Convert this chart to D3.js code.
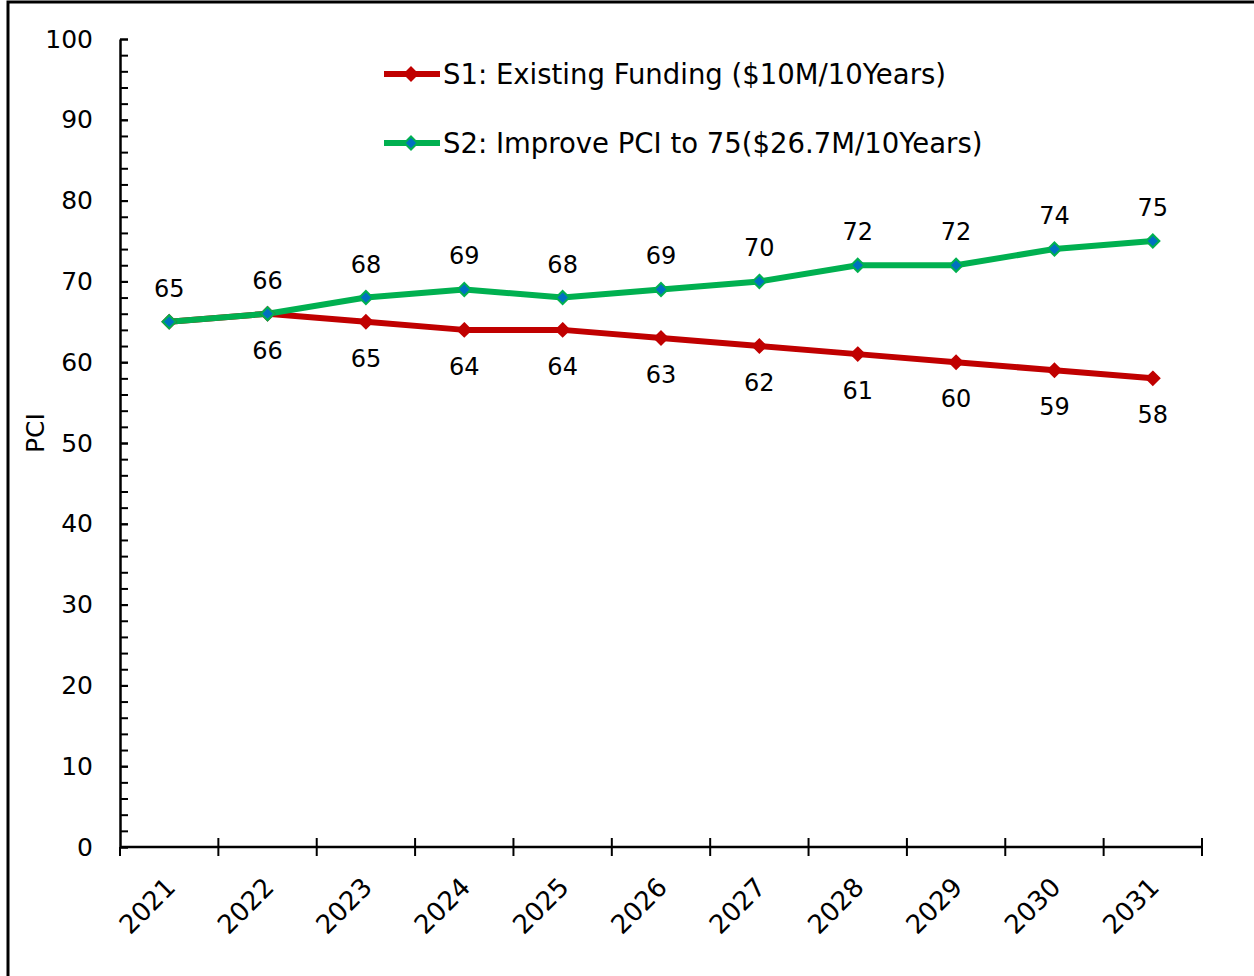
<!DOCTYPE html>
<html>
<head>
<meta charset="utf-8">
<script src="https://cdn.jsdelivr.net/npm/d3@7"></script>
<style>
  body { margin: 0; background: #fff; }
  text { font-family: "DejaVu Sans", Verdana, sans-serif; fill: #000; }
</style>
</head>
<body>
<div id="wrapper"></div>
<script>
// data
const years = ["2021", "2022", "2023", "2024", "2025", "2026", "2027", "2028", "2029", "2030", "2031"];
const s1Values = [65, 66, 65, 64, 64, 63, 62, 61, 60, 59, 58];
const s2Values = [65, 66, 68, 69, 68, 69, 70, 72, 72, 74, 75];
const s1Name = "S1: Existing Funding ($10M/10Years)";
const s2Name = "S2: Improve PCI to 75($26.7M/10Years)";
const yTicks = [0, 10, 20, 30, 40, 50, 60, 70, 80, 90, 100];

function drawChart() {
    let dimensions = {
        width: 1254,
        height: 976,
        margin: { top: 39, right: 52, bottom: 129, left: 120 }
    };
    dimensions.boundedWidth = dimensions.width - dimensions.margin.left - dimensions.margin.right;
    dimensions.boundedHeight = dimensions.height - dimensions.margin.top - dimensions.margin.bottom;

    const wrapper = d3.select("#wrapper")
        .append("svg")
            .attr("width", dimensions.width)
            .attr("height", dimensions.height);

    // outer frame (only top + left edges are visible in the shot)
    wrapper.append("rect")
        .attr("x", 8).attr("y", 2)
        .attr("width", 1260).attr("height", 990)
        .attr("fill", "none").attr("stroke", "#000").attr("stroke-width", 3);

    const bounds = wrapper.append("g")
        .attr("transform", `translate(${dimensions.margin.left},${dimensions.margin.top})`);

    const xScale = d3.scaleBand()
        .domain(years)
        .range([0, dimensions.boundedWidth]);
    const xPos = d => xScale(d) + xScale.bandwidth() / 2;

    const yScale = d3.scaleLinear()
        .domain([0, 100])
        .range([dimensions.boundedHeight, 0]);

    // y axis: minor ticks every 2, major every 10 crossing the line
    const yMinor = bounds.append("g")
        .call(d3.axisRight(yScale).tickValues(d3.range(0, 101, 2)).tickSize(8).tickFormat(""));
    yMinor.select(".domain").remove();
    yMinor.selectAll("line").attr("stroke-width", 2);

    const yAxis = bounds.append("g")
        .call(d3.axisLeft(yScale).tickValues(yTicks).tickSizeInner(10).tickSizeOuter(0).tickPadding(17));
    yAxis.select(".domain").attr("stroke-width", 2.5);
    yAxis.selectAll(".tick line").attr("x2", 8).attr("stroke-width", 2);
    yAxis.selectAll("text").style("font-size", "25px");

    // x axis with ticks at band edges
    const edges = d3.range(years.length + 1).map(i => i * xScale.step());
    const xAxisG = bounds.append("g")
        .attr("transform", `translate(0,${dimensions.boundedHeight})`);
    xAxisG.append("line")
        .attr("x1", 0).attr("x2", dimensions.boundedWidth)
        .attr("stroke", "#000").attr("stroke-width", 2.5);
    xAxisG.selectAll(".edge")
        .data(edges)
        .join("line")
            .attr("class", "edge")
            .attr("x1", d => d).attr("x2", d => d)
            .attr("y1", (d, i) => i === 0 ? 0 : -9)
            .attr("y2", 9)
            .attr("stroke", "#000").attr("stroke-width", 2);
    xAxisG.selectAll(".xlab")
        .data(years)
        .join("text")
            .attr("class", "xlab")
            .attr("transform", d => `translate(${xPos(d) - 6},${28}) rotate(-45)`)
            .attr("text-anchor", "end")
            .attr("dy", "0.75em")
            .style("font-size", "26px")
            .text(d => d);

    // y axis title
    wrapper.append("text")
        .attr("transform", `translate(${44},${433}) rotate(-90)`)
        .attr("text-anchor", "middle")
        .style("font-size", "25px")
        .text("PCI");

    const series = [
        { name: s1Name, values: s1Values, stroke: "#C00000", fill: "#C00000", labelDy: 45, skipFirst: true },
        { name: s2Name, values: s2Values, stroke: "#00B050", fill: "#0070C0", labelDy: -25, skipFirst: false }
    ];

    const lineGen = d3.line()
        .x((d, i) => xPos(years[i]))
        .y(d => yScale(d));

    const diamond = d3.symbol().type(d3.symbolDiamond2).size(110);

    series.forEach(s => {
        bounds.append("path")
            .datum(s.values)
            .attr("d", lineGen)
            .attr("fill", "none")
            .attr("stroke", s.stroke)
            .attr("stroke-width", 6)
            .attr("stroke-linejoin", "round");
    });

    series.forEach(s => {
        bounds.selectAll(null)
            .data(s.values)
            .join("path")
                .attr("d", diamond)
                .attr("transform", (d, i) => `translate(${xPos(years[i])},${yScale(d)})`)
                .attr("fill", s.fill)
                .attr("stroke", s.stroke)
                .attr("stroke-width", 2);

        bounds.selectAll(null)
            .data(s.values.map((v, i) => ({ v, i })).filter(d => !(s.skipFirst && d.i === 0)))
            .join("text")
                .attr("x", d => xPos(years[d.i]))
                .attr("y", d => yScale(d.v) + s.labelDy)
                .attr("text-anchor", "middle")
                .style("font-size", "24px")
                .text(d => d.v);
    });

    // legend
    const legend = wrapper.append("g");
    series.forEach((s, i) => {
        const y = 74 + i * 69;
        legend.append("line")
            .attr("x1", 384).attr("x2", 440)
            .attr("y1", y).attr("y2", y)
            .attr("stroke", s.stroke).attr("stroke-width", 6);
        legend.append("path")
            .attr("d", diamond)
            .attr("transform", `translate(411,${y})`)
            .attr("fill", s.fill)
            .attr("stroke", s.stroke)
            .attr("stroke-width", 2);
        legend.append("text")
            .attr("x", 443).attr("y", y)
            .attr("dy", "0.35em")
            .style("font-size", "27.5px")
            .text(s.name);
    });
}

drawChart();
</script>
</body>
</html>
